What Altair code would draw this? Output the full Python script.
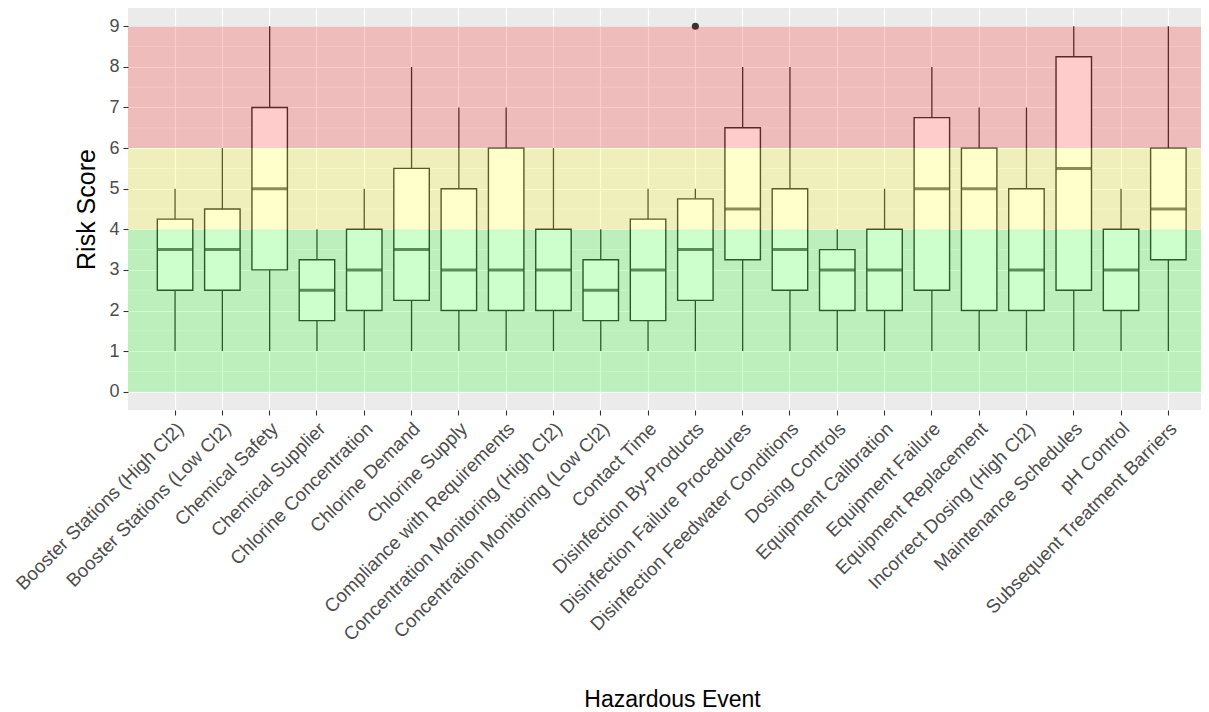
import altair as alt
import pandas as pd

events = [
    "Booster Stations (High Cl2)", "Booster Stations (Low Cl2)", "Chemical Safety",
    "Chemical Supplier", "Chlorine Concentration", "Chlorine Demand", "Chlorine Supply",
    "Compliance with Requirements", "Concentration Monitoring (High Cl2)",
    "Concentration Monitoring (Low Cl2)", "Contact Time", "Disinfection By-Products",
    "Disinfection Failure Procedures", "Disinfection Feedwater Conditions",
    "Dosing Controls", "Equipment Calibration", "Equipment Failure",
    "Equipment Replacement", "Incorrect Dosing (High Cl2)", "Maintenance Schedules",
    "pH Control", "Subsequent Treatment Barriers",
]
lower = [1, 1, 1, 1, 1, 1, 1, 1, 1, 1, 1, 1, 1, 1, 1, 1, 1, 1, 1, 1, 1, 1]
q1 = [2.5, 2.5, 3, 1.75, 2, 2.25, 2, 2, 2, 1.75, 1.75, 2.25, 3.25, 2.5, 2, 2, 2.5, 2, 2, 2.5, 2, 3.25]
median = [3.5, 3.5, 5, 2.5, 3, 3.5, 3, 3, 3, 2.5, 3, 3.5, 4.5, 3.5, 3, 3, 5, 5, 3, 5.5, 3, 4.5]
q3 = [4.25, 4.5, 7, 3.25, 4, 5.5, 5, 6, 4, 3.25, 4.25, 4.75, 6.5, 5, 3.5, 4, 6.75, 6, 5, 8.25, 4, 6]
upper = [5, 6, 9, 4, 5, 8, 7, 7, 6, 4, 5, 5, 8, 8, 4, 5, 8, 7, 7, 9, 5, 9]

outlier_event = ["Disinfection By-Products"]
outlier_value = [9]

band_lo = [0, 4, 6]
band_hi = [4, 6, 9]
band_color = ["#00ff00", "#ffff00", "#ff0000"]

minor_grid = [0.5, 1.5, 2.5, 3.5, 4.5, 5.5, 6.5, 7.5, 8.5]
y_ticks = [0, 1, 2, 3, 4, 5, 6, 7, 8, 9]

stats = pd.DataFrame({"event": events, "lower": lower, "q1": q1, "median": median,
                      "q3": q3, "upper": upper})
outliers = pd.DataFrame({"event": outlier_event, "value": outlier_value})
bands = pd.DataFrame({"lo": band_lo, "hi": band_hi, "color": band_color})
minor = pd.DataFrame({"y": minor_grid})

FONT = "Liberation Sans"
W, H = 1073, 402
BOX_W = 35.5

yscale = alt.Scale(domain=[-0.45, 9.45], nice=False, zero=False)
yaxis = alt.Axis(values=y_ticks, title="Risk Score", titleFontSize=25, titleFont=FONT,
                 titleColor="#000000", titleFontWeight="normal", titleX=-42,
                 titleBaseline="middle", labelFontSize=18, labelFont=FONT,
                 labelColor="#4D4D4D", labelPadding=4, tickSize=5, tickColor="#333333",
                 tickWidth=1.1, grid=True, gridColor="#FFFFFF", gridWidth=1.2,
                 domain=False)
xscale = alt.Scale(paddingInner=0.25, paddingOuter=0.4675, align=0.663)
xaxis = alt.Axis(title="Hazardous Event", titleFontSize=23, titleFont=FONT,
                 titleColor="#000000", titleFontWeight="normal", titleY=289,
                 titleX=544, titleBaseline="middle", titleAlign="center",
                 labelAngle=-45, labelAlign="right", labelBaseline="top",
                 labelFontSize=18.8, labelFont=FONT, labelColor="#4D4D4D",
                 labelPadding=4, labelOffset=-1, labelLimit=0, labelOverlap=False,
                 tickSize=5, tickColor="#333333", tickWidth=1.1, grid=True,
                 gridColor="#FFFFFF", gridWidth=1.2, bandPosition=0.5, domain=False)

X = alt.X("event:N", sort=events, scale=xscale, axis=xaxis)

minor_layer = alt.Chart(minor).mark_rule(color="#FFFFFF", strokeWidth=0.6).encode(
    y=alt.Y("y:Q", scale=yscale, axis=yaxis)
)

whisker = alt.Chart(stats).mark_rule(color="#333333", strokeWidth=1.3).encode(
    x=X,
    y=alt.Y("lower:Q", scale=yscale, axis=yaxis),
    y2="upper:Q",
)

box = alt.Chart(stats).mark_bar(fill="#FFFFFF", stroke="#333333", strokeWidth=1.4).encode(
    x=X,
    y=alt.Y("q1:Q", scale=yscale, axis=yaxis),
    y2="q3:Q",
)

med = alt.Chart(stats).mark_tick(color="#333333", thickness=3, size=BOX_W).encode(
    x=X,
    y=alt.Y("median:Q", scale=yscale, axis=yaxis),
)

outl = alt.Chart(outliers).mark_circle(color="#333333", opacity=1, size=50).encode(
    x=X,
    y=alt.Y("value:Q", scale=yscale, axis=yaxis),
)

band_layer = alt.Chart(bands).mark_rect(opacity=0.2).encode(
    y=alt.Y("lo:Q", scale=yscale, axis=yaxis),
    y2="hi:Q",
    color=alt.Color("color:N", scale=None, legend=None),
)

chart = alt.layer(minor_layer, whisker, box, med, outl, band_layer).properties(
    width=W, height=H,
    background="#FFFFFF",
    autosize=alt.AutoSizeParams(type="none"),
    padding={"left": 120, "top": 0, "right": 0, "bottom": 300},
).configure_view(fill="#EBEBEB", stroke=None)

chart.save("out.html", embed_options={"renderer": "svg", "actions": False})
